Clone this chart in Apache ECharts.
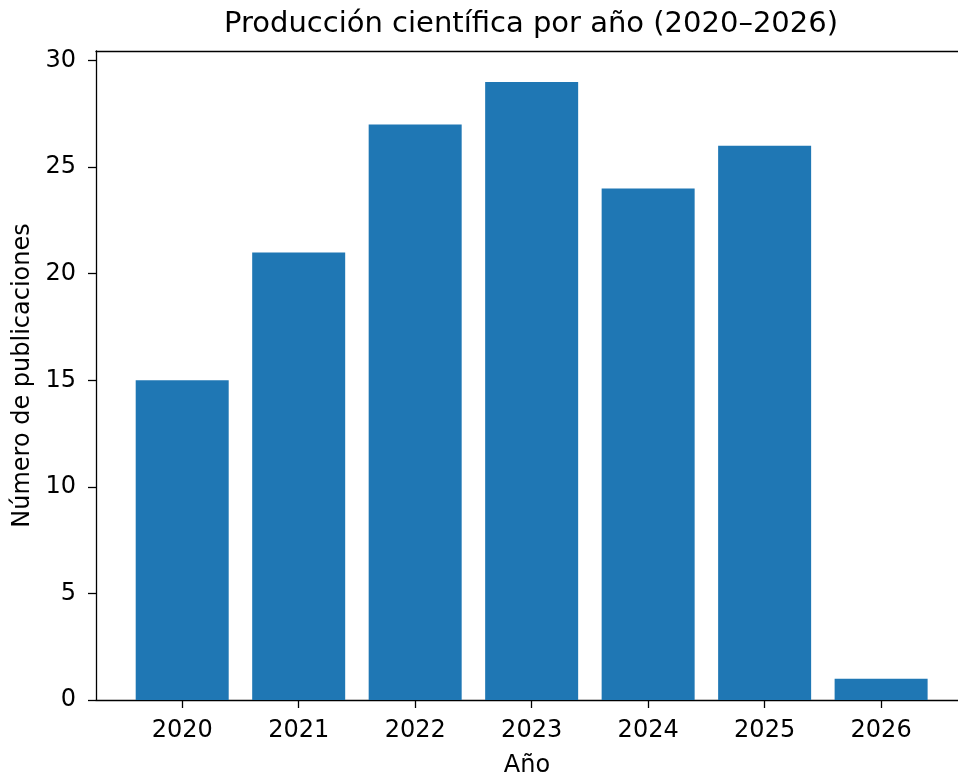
<!DOCTYPE html>
<html>
<head>
<meta charset="utf-8">
<script src="https://cdn.jsdelivr.net/npm/echarts@6/dist/echarts.min.js"></script>
<style>
html,body{margin:0;padding:0;background:#fff;}
#chart{width:958px;height:776px;}
</style>
</head>
<body>
<div id="chart"></div>
<script>
const years = ['2020','2021','2022','2023','2024','2025','2026'];
const counts = [15, 21, 27, 29, 24, 26, 1];
const yTicks = [0, 5, 10, 15, 20, 25, 30];
const titleText = 'Producción científica por año (2020–2026)';
const xLabel = 'Año';
const yLabel = 'Número de publicaciones';

const FONT = 'DejaVu Sans';
const chart = echarts.init(document.getElementById('chart'), null, {renderer: 'canvas'});
const xIdx = years.map((_, i) => i);
const axisColor = '#000';

chart.setOption({
  animation: false,
  backgroundColor: '#fff',
  title: {
    text: titleText,
    left: 526,
    top: 5,
    textAlign: 'center',
    textStyle: {fontFamily: FONT, fontSize: 29, fontWeight: 'normal', color: '#000'}
  },
  grid: {left: 96, right: 0, top: 51, bottom: 76, containLabel: false, outerBoundsMode: 'none'},
  xAxis: [{
    type: 'value',
    min: -0.74,
    max: 6.66,
    position: 'bottom',
    splitLine: {show: false},
    axisLine: {show: true, onZero: false, lineStyle: {color: axisColor, width: 1.3}},
    axisTick: {show: true, length: 8, customValues: xIdx, lineStyle: {color: axisColor, width: 1.3}},
    axisLabel: {
      customValues: xIdx,
      formatter: v => years[Math.round(v)] || '',
      fontFamily: FONT, fontSize: 24, color: '#000', margin: 19
    },
    name: xLabel,
    nameLocation: 'middle',
    nameGap: 54,
    nameTextStyle: {fontFamily: FONT, fontSize: 24, color: '#000'}
  }, {
    type: 'value',
    min: -0.74,
    max: 6.66,
    position: 'top',
    splitLine: {show: false},
    axisLine: {show: true, onZero: false, lineStyle: {color: axisColor, width: 1.3}},
    axisTick: {show: false},
    axisLabel: {show: false}
  }],
  yAxis: {
    type: 'value',
    min: 0,
    max: 30.45,
    splitLine: {show: false},
    axisLine: {show: true, onZero: false, lineStyle: {color: axisColor, width: 1.3}},
    axisTick: {show: true, length: 8, customValues: yTicks, lineStyle: {color: axisColor, width: 1.3}},
    axisLabel: {customValues: yTicks, fontFamily: FONT, fontSize: 24, color: '#000', margin: 20},
    name: yLabel,
    nameLocation: 'middle',
    nameGap: 60,
    nameTextStyle: {fontFamily: FONT, fontSize: 24, color: '#000'}
  },
  series: [{
    type: 'bar',
    xAxisIndex: 0,
    data: counts.map((c, i) => [i, c]),
    barWidth: 93,
    itemStyle: {color: '#1f77b4'}
  }]
});
</script>
</body>
</html>
